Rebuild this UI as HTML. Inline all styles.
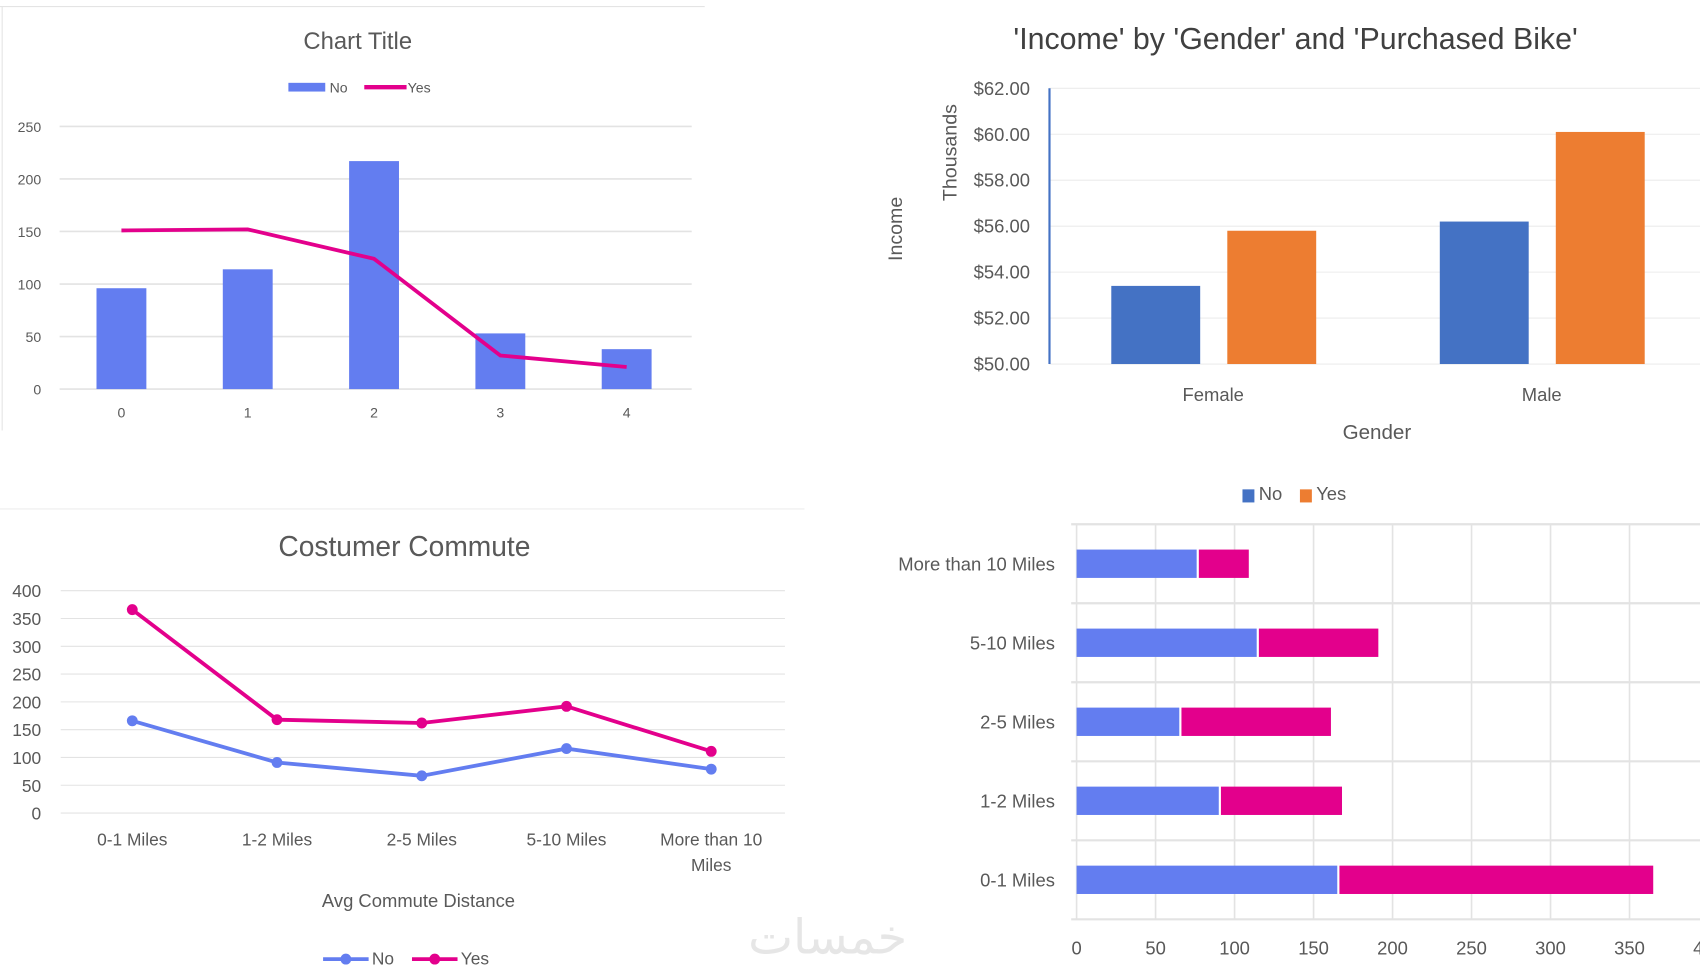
<!DOCTYPE html>
<html><head><meta charset="utf-8"><style>
html,body{margin:0;padding:0;background:#fff;}
svg{display:block;font-family:"Liberation Sans",sans-serif;}
</style></head><body>
<svg id="s" width="1700" height="970" viewBox="0 0 1568 890" preserveAspectRatio="none">
<rect x="0" y="0" width="1568" height="890" fill="#fff"/>
<line x1="0" y1="6" x2="650" y2="6" stroke="#e4e4e4"/>
<line x1="2" y1="6" x2="2" y2="395" stroke="#e4e4e4"/>
<line x1="0" y1="467" x2="742" y2="467" stroke="#eee"/>
<text x="330" y="45" text-anchor="middle" font-size="22" fill="#595959">Chart Title</text>
<text x="1195" y="45" text-anchor="middle" font-size="28" fill="#404040">'Income' by 'Gender' and 'Purchased Bike'</text>
<text x="373" y="510" text-anchor="middle" font-size="26" fill="#595959">Costumer Commute</text>
<text x="690" y="875" font-size="44" fill="#e6e6e6">خمسات</text>
<g id="g1"></g><g id="g2"></g><g id="g3"></g><g id="g4"></g>
</svg>
<script>
// chart 1
const c1Cats=["0","1","2","3","4"];
const c1No=[96,114,217,53,38];
const c1Yes=[151,152,124,32,21];
const c1Ticks=[0,50,100,150,200,250];
// chart 2
const c2Cats=["Female","Male"];
const c2No=[53.4,56.2];
const c2Yes=[55.8,60.1];
const c2Ticks=[50,52,54,56,58,60,62];
// chart 3
const c3Cats=["0-1 Miles","1-2 Miles","2-5 Miles","5-10 Miles","More than 10 Miles"];
const c3No=[166,91,67,116,79];
const c3Yes=[366,168,162,192,111];
const c3Ticks=[0,50,100,150,200,250,300,350,400];
// chart 4
const c4Cats=["More than 10 Miles","5-10 Miles","2-5 Miles","1-2 Miles","0-1 Miles"];
const c4No=[76,114,65,90,165];
const c4Yes=[33,77,96,78,200];
const c4Ticks=[0,50,100,150,200,250,300,350,400];

const NS="http://www.w3.org/2000/svg";
function mk(g,tag,a,txt){const e=document.createElementNS(NS,tag);for(const k in a)e.setAttribute(k,a[k]);if(txt!==undefined)e.textContent=txt;g.appendChild(e);return e;}
const BLUE="#637df0",PINK="#e3008c";

// ---- chart1
(function(){
const g=document.getElementById('g1');
const y=v=>357-v*(241/250), x=i=>112+i*116.5;
c1Ticks.forEach(t=>{
 let l=mk(g,'line',{x1:55,x2:638,y1:y(t),y2:y(t),stroke:'#e3e3e3','stroke-width':1.5});
 
 
 let tx=mk(g,'text',{x:38,y:y(t)+5,'text-anchor':'end','font-size':13,fill:'#595959'},t);
 
 
});
c1Cats.forEach((c,i)=>{
 let b=mk(g,'rect',{x:x(i)-23,y:y(c1No[i]),width:46,height:y(0)-y(c1No[i]),fill:BLUE});
 
 
 let tx=mk(g,'text',{x:x(i),y:383,'text-anchor':'middle','font-size':13,fill:'#595959'},c);
 
 
});
let p=mk(g,'polyline',{points:c1Yes.map((v,i)=>x(i)+','+y(v)).join(' '),fill:'none',stroke:PINK,'stroke-width':3.5});


let lg=mk(g,'rect',{x:266,y:76,width:34,height:8,fill:BLUE});


mk(g,'text',{x:304,y:85,'font-size':13,fill:'#595959'},'No');
let ll=mk(g,'line',{x1:336,x2:375,y1:80,y2:80,stroke:PINK,'stroke-width':4});


mk(g,'text',{x:376,y:85,'font-size':13,fill:'#595959'},'Yes');
})();

// ---- chart2
(function(){
const g=document.getElementById('g2');
const y=v=>334-(v-50)*(253/12), cx=[1119,1422];
c2Ticks.forEach(t=>{
 let l=mk(g,'line',{x1:968,x2:1568,y1:y(t),y2:y(t),stroke:'#ececec'});
 
 
 let tx=mk(g,'text',{x:950,y:y(t)+6,'text-anchor':'end','font-size':17,fill:'#595959'},'$'+t.toFixed(2));
 
 
});
mk(g,'line',{x1:968,x2:968,y1:81,y2:334,stroke:'#4472c4','stroke-width':2});
c2Cats.forEach((c,i)=>{
 let b=mk(g,'rect',{x:cx[i]-94,y:y(c2No[i]),width:82,height:y(50)-y(c2No[i]),fill:'#4472c4'});
 
 
 let b2=mk(g,'rect',{x:cx[i]+13,y:y(c2Yes[i]),width:82,height:y(50)-y(c2Yes[i]),fill:'#ed7d31'});
 
 
 let tx=mk(g,'text',{x:cx[i],y:368,'text-anchor':'middle','font-size':17,fill:'#595959'},c);
 
 
});
mk(g,'text',{x:1270,y:403,'text-anchor':'middle','font-size':19,fill:'#595959'},'Gender');
mk(g,'text',{x:0,y:0,'text-anchor':'middle','font-size':18,fill:'#595959',transform:'translate(882,140) rotate(-90)'},'Thousands');
mk(g,'text',{x:0,y:0,'text-anchor':'middle','font-size':18,fill:'#595959',transform:'translate(832,210) rotate(-90)'},'Income');
let a=mk(g,'rect',{x:1146,y:449,width:11,height:12,fill:'#4472c4'});


mk(g,'text',{x:1161,y:459,'font-size':17,fill:'#595959'},'No');
let b=mk(g,'rect',{x:1199,y:449,width:11,height:12,fill:'#ed7d31'});


mk(g,'text',{x:1214,y:459,'font-size':17,fill:'#595959'},'Yes');
})();

// ---- chart3
(function(){
const g=document.getElementById('g3');
const y=v=>746-v*(204/400), x=i=>122+i*133.5;
c3Ticks.forEach(t=>{
 let l=mk(g,'line',{x1:56,x2:724,y1:y(t),y2:y(t),stroke:'#e3e3e3'});
 
 
 let tx=mk(g,'text',{x:38,y:y(t)+6,'text-anchor':'end','font-size':16,fill:'#595959'},t);
 
 
});
c3Cats.forEach((c,i)=>{
 let tx;
 if(c.length>12){
  tx=mk(g,'text',{x:x(i),y:776,'text-anchor':'middle','font-size':16,fill:'#595959'},'More than 10');
  mk(g,'text',{x:x(i),y:799,'text-anchor':'middle','font-size':16,fill:'#595959'},'Miles');
 } else tx=mk(g,'text',{x:x(i),y:776,'text-anchor':'middle','font-size':16,fill:'#595959'},c);
 
 
});
[[c3No,BLUE,'c3-line-no'],[c3Yes,PINK,'c3-line-yes']].forEach(([d,col,n])=>{
 let p=mk(g,'polyline',{points:d.map((v,i)=>x(i)+','+y(v)).join(' '),fill:'none',stroke:col,'stroke-width':3.5});
 
 
 d.forEach((v,i)=>{
  let c=mk(g,'circle',{cx:x(i),cy:y(v),r:5,fill:col});
  
  
 });
});
mk(g,'text',{x:386,y:832,'text-anchor':'middle','font-size':17,fill:'#595959'},'Avg Commute Distance');
let l1=mk(g,'line',{x1:298,x2:340,y1:880,y2:880,stroke:BLUE,'stroke-width':3.5});


mk(g,'circle',{cx:319,cy:880,r:5,fill:BLUE});
mk(g,'text',{x:343,y:885,'font-size':16,fill:'#595959'},'No');
let l2=mk(g,'line',{x1:380,x2:422,y1:880,y2:880,stroke:PINK,'stroke-width':3.5});


mk(g,'circle',{cx:401,cy:880,r:5,fill:PINK});
mk(g,'text',{x:425,y:885,'font-size':16,fill:'#595959'},'Yes');
})();

// ---- chart4
(function(){
const g=document.getElementById('g4');
const x=v=>993+v*(510/350), rowH=72.5, top=481;
c4Ticks.forEach(t=>{
 let l=mk(g,'line',{x1:x(t),x2:x(t),y1:top,y2:top+5*rowH,stroke:'#e3e3e3','stroke-width':1.5});
 
 
 let tx=mk(g,'text',{x:x(t),y:876,'text-anchor':'middle','font-size':17,fill:'#595959'},t);
 
 
});
for(let k=0;k<=5;k++) mk(g,'line',{x1:988,x2:1568,y1:top+k*rowH,y2:top+k*rowH,stroke:'#e3e3e3','stroke-width':2});
c4Cats.forEach((c,i)=>{
 const cy=top+rowH*(i+0.5);
 let b=mk(g,'rect',{x:x(0),y:cy-13,width:x(c4No[i])-x(0),height:26,fill:BLUE});
 
 
 let b2=mk(g,'rect',{x:x(c4No[i])+2,y:cy-13,width:x(c4No[i]+c4Yes[i])-x(c4No[i])-2,height:26,fill:PINK});
 
 
 let tx=mk(g,'text',{x:973,y:cy+6,'text-anchor':'end','font-size':17,fill:'#595959'},c);
 
 
});
})();
</script>
</body></html>
